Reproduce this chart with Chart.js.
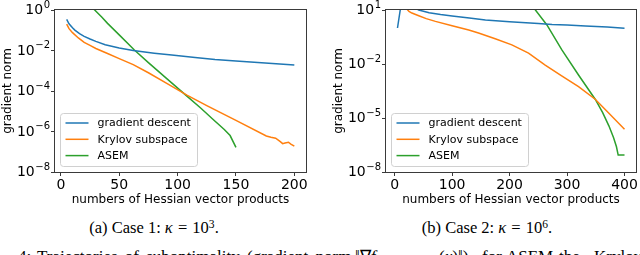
<!DOCTYPE html>
<html>
<head>
<meta charset="utf-8">
<script src="https://cdn.jsdelivr.net/npm/chart.js@4.4.1/dist/chart.umd.min.js"></script>
<style>
  body { margin: 0; background: #fff; }
  #page { position: relative; width: 640px; height: 255px; overflow: hidden; background: #fff; }
  canvas { position: absolute; top: 0; }
  #case1 { left: 0; }
  #case2 { left: 320px; }
  .caption, .note { position: absolute; font-family: "Liberation Serif", serif; line-height: 16px; color: #000; white-space: nowrap; }
  .caption { top: 220px; font-size: 16.5px; transform: translateX(-50%); }
  .caption .eq { margin: 0 1px; }
  .sup { font-size: 0.7em; position: relative; top: -0.45em; }
  .note { top: 249px; font-size: 17px; word-spacing: 3px; }
</style>
</head>
<body>
<div id="page">
  <canvas id="case1" width="320" height="210"></canvas>
  <canvas id="case2" width="320" height="210"></canvas>
  <div class="caption" style="left:154px">(a) Case 1: <i>κ</i> <span class="eq">=</span> 10<span class="sup">3</span>.</div>
  <div class="caption" style="left:487px">(b) Case 2: <i>κ</i> <span class="eq">=</span> 10<span class="sup">6</span>.</div>
  <div class="note" style="left:18px">4:</div>
  <div class="note" style="left:37px">Trajectories of suboptimality (gradient norm</div>
  <div class="note" style="left:355px">‖∇<i>f</i><sub>μ</sub></div>
  <div class="note" style="left:439px">(<i>x</i>)‖)</div>
  <div class="note" style="left:482px">for</div>
  <div class="note" style="left:506px">ASEM,</div>
  <div class="note" style="left:559px">the</div>
  <div class="note" style="left:594px">Krylov subspace method</div>
</div>
<script>
const SERIES_LABELS = ['gradient descent', 'Krylov subspace', 'ASEM'];
const SERIES_COLORS = ['#1f77b4', '#ff7f0e', '#2ca02c'];
const X_TITLE = 'numbers of Hessian vector products';
const Y_TITLE = 'gradient norm';

// --- Case 1: kappa = 1e3 ---
const case1GdSteps = [5, 7, 10, 12, 16, 20, 25, 30, 38, 50, 62, 80, 95, 115, 132, 150, 175, 200];
const case1GdNorm = [3.47e-1, 2.09e-1, 1.32e-1, 1.02e-1, 6.76e-2, 5.01e-2, 3.72e-2, 2.82e-2, 1.91e-2, 1.32e-2, 1.0e-2, 7.41e-3, 6.03e-3, 4.57e-3, 3.63e-3, 3.02e-3, 2.40e-3, 1.91e-3];
const case1KrylovSteps = [5, 7, 10, 15, 20, 25, 30, 40, 50, 62, 75, 90, 108, 125, 150, 176, 180, 184, 188, 190, 192, 195, 197, 200];
const case1KrylovNorm = [2.0e-1, 1.2e-1, 7.59e-2, 4.17e-2, 2.51e-2, 1.78e-2, 1.26e-2, 7.08e-3, 3.98e-3, 2.0e-3, 7.94e-4, 2.51e-4, 6.31e-5, 1.91e-5, 3.55e-6, 6.03e-7, 5.25e-7, 4.68e-7, 3.16e-7, 2.51e-7, 2.69e-7, 2.95e-7, 2.40e-7, 1.91e-7];
const case1AsemSteps = [25, 29, 35, 40, 50, 63, 75, 90, 108, 120, 130, 140, 145, 150];
const case1AsemNorm = [1.58, 1.0, 4.47e-1, 2.19e-1, 5.89e-2, 1.05e-2, 2.51e-3, 4.47e-4, 5.62e-5, 1.41e-5, 4.17e-6, 1.26e-6, 6.31e-7, 1.66e-7];
const case1XTicks = [0, 50, 100, 150, 200];
const case1YTicks = [1e-8, 1e-6, 1e-4, 1e-2, 1];

// --- Case 2: kappa = 1e6 ---
const case2GdSteps = [5, 10, 20, 30, 42, 60, 80, 100, 130, 158, 200, 250, 274, 300, 332, 370, 400];
const case2GdNorm = [1.0, 11.2, 20.0, 15.8, 10.0, 7.08, 5.62, 4.68, 3.55, 2.75, 2.19, 1.78, 1.58, 1.45, 1.29, 1.12, 9.55e-1];
const case2KrylovSteps = [20, 25, 30, 42, 55, 71, 100, 129, 146, 175, 204, 233, 262, 290, 320, 349, 375, 400];
const case2KrylovNorm = [12.6, 8.32, 6.76, 4.79, 3.31, 2.34, 1.32, 7.76e-1, 5.25e-1, 2.51e-1, 1.15e-1, 3.98e-2, 8.71e-3, 2.24e-3, 5.50e-4, 1.10e-4, 1.58e-5, 2.34e-6];
const case2AsemSteps = [238, 245, 265, 291, 320, 349, 362, 373, 381, 386, 389, 395, 400];
const case2AsemNorm = [20.0, 10.0, 1.48, 6.03e-2, 2.45e-3, 1.10e-4, 2.0e-5, 3.55e-6, 7.94e-7, 2.51e-7, 8.71e-8, 8.71e-8, 8.71e-8];
const case2XTicks = [0, 100, 200, 300, 400];
const case2YTicks = [1e-8, 1e-5, 1e-2, 10];

Chart.defaults.font.family = '"DejaVu Sans", sans-serif';
Chart.defaults.color = '#000';

// axes box, 10^n tick labels (mathtext-like) and the legend box
const mplDecor = {
    id: 'mplDecor',
    afterDraw(chart) {
        const { ctx, chartArea: a } = chart;
        ctx.save();
        ctx.strokeStyle = '#3a3a3a';
        ctx.lineWidth = 1;
        const l = Math.round(a.left) - 0.5, t = Math.round(a.top) - 0.5;
        ctx.strokeRect(l, t, Math.round(a.right - a.left) + 1, Math.round(a.bottom - a.top) + 1);

        // y tick labels: "10" with a raised exponent
        const ys = chart.scales.y;
        const right = Math.round(ys.right) - 5;
        ctx.fillStyle = '#000';
        ctx.textAlign = 'right';
        ctx.textBaseline = 'middle';
        ys.ticks.forEach(tk => {
            const py = ys.getPixelForValue(tk.value);
            const exp = String(Math.round(Math.log10(tk.value))).replace('-', '\u2212');
            ctx.font = '10px "DejaVu Sans"';
            const ew = ctx.measureText(exp).width;
            ctx.fillText(exp, right, py - 5);
            ctx.font = '14px "DejaVu Sans"';
            ctx.fillText('10', right - ew - 0.5, py + 0.5);
        });

        // legend
        const bx = Math.round(a.left) + 5.5, by = Math.round(a.bottom) - 58.5, bw = 137, bh = 53;
        ctx.fillStyle = 'rgba(255,255,255,0.8)';
        ctx.strokeStyle = '#d0d0d0';
        ctx.beginPath();
        ctx.roundRect(bx, by, bw, bh, 3);
        ctx.fill();
        ctx.stroke();
        ctx.font = '11px "DejaVu Sans"';
        ctx.textAlign = 'left';
        chart.data.datasets.forEach((ds, i) => {
            const y = by + 9.5 + i * 16.3;
            ctx.strokeStyle = ds.borderColor;
            ctx.lineWidth = 1.5;
            ctx.beginPath();
            ctx.moveTo(bx + 5, y);
            ctx.lineTo(bx + 28, y);
            ctx.stroke();
            ctx.fillStyle = '#000';
            ctx.fillText(ds.label, bx + 37, y + 0.5);
        });
        ctx.restore();
    }
};

function buildChart(id, series, xMin, xMax, xTicks, yTicks, yWidth, padRight, yTitlePad) {
    const datasets = series.map((s, i) => ({
        label: SERIES_LABELS[i],
        data: s.steps.map((x, k) => ({ x: x, y: s.norm[k] })),
        borderColor: SERIES_COLORS[i],
        borderWidth: 1.5,
        pointRadius: 0,
        tension: 0,
        fill: false
    }));
    return new Chart(document.getElementById(id), {
        type: 'line',
        data: { datasets: datasets },
        options: {
            responsive: false,
            animation: false,
            devicePixelRatio: 1,
            layout: { padding: { top: 10, right: padRight, left: 0, bottom: 0 } },
            plugins: { legend: { display: false }, tooltip: { enabled: false } },
            scales: {
                x: {
                    type: 'linear', min: xMin, max: xMax,
                    afterBuildTicks: scale => { scale.ticks = xTicks.map(v => ({ value: v })); },
                    afterFit: scale => { scale.height = 38; },
                    ticks: { font: { size: 14 }, padding: 1, autoSkip: false, maxRotation: 0, color: '#000' },
                    grid: { drawOnChartArea: false, tickLength: 4, color: '#3a3a3a' },
                    border: { display: false },
                    title: { display: true, text: X_TITLE, font: { size: 12, lineHeight: 1.2 }, padding: { top: 0, bottom: 3 }, color: '#000' }
                },
                y: {
                    type: 'logarithmic', min: yTicks[0], max: yTicks[yTicks.length - 1],
                    afterBuildTicks: scale => { scale.ticks = yTicks.map(v => ({ value: v })); },
                    afterFit: scale => { scale.width = yWidth; },
                    ticks: { display: false },
                    grid: { drawOnChartArea: false, tickLength: 4, color: '#3a3a3a' },
                    border: { display: false },
                    title: { display: true, text: Y_TITLE, font: { size: 12, lineHeight: 1.2 }, padding: { top: yTitlePad, bottom: 0 }, color: '#000' }
                }
            }
        },
        plugins: [mplDecor]
    });
}

buildChart('case1', [
    { steps: case1GdSteps, norm: case1GdNorm },
    { steps: case1KrylovSteps, norm: case1KrylovNorm },
    { steps: case1AsemSteps, norm: case1AsemNorm }
], -5, 210, case1XTicks, case1YTicks, 55, 14, 1);

buildChart('case2', [
    { steps: case2GdSteps, norm: case2GdNorm },
    { steps: case2KrylovSteps, norm: case2KrylovNorm },
    { steps: case2AsemSteps, norm: case2AsemNorm }
], -15, 420, case2XTicks, case2YTicks, 66, 4, 12);
</script>
</body>
</html>
